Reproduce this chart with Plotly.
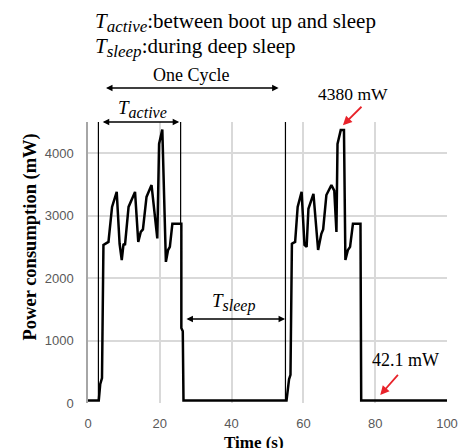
import plotly.graph_objects as go

# Power trace
time_s = [0, 3.0, 3.4, 3.9, 4.3, 5.7, 6.7, 8.0, 8.8, 9.4, 9.9, 10.3, 11.3, 13.1, 14.0, 14.7, 15.3,
          16.3, 17.7, 19.3, 19.8, 20.7, 21.7, 22.3, 22.8, 23.5, 26.0, 26.0, 26.4, 26.6,
          55.3, 56.0, 56.4, 56.8, 57.7, 58.4, 59.5, 60.3, 60.9, 61.4, 62.8, 64.1, 65.0, 65.5,
          66.4, 67.8, 68.6, 69.2, 69.5, 70.4, 71.3, 71.7, 72.4, 73.0, 73.8, 75.9, 76.1, 76.8, 100]
power_mw = [42, 42, 300, 400, 2530, 2580, 3140, 3380, 2550, 2290, 2550, 2530, 3140, 3380, 2580, 2740, 2780,
            3300, 3490, 2635, 4150, 4380, 2260, 2450, 2500, 2870, 2870, 1200, 1150, 42,
            42, 380, 450, 2550, 2580, 3140, 3380, 2530, 2500, 3110, 3350, 2450, 2710, 2780,
            3330, 3490, 3400, 2740, 4150, 4370, 4370, 2290, 2450, 2500, 2870, 2870, 42, 42, 42]

x_ticks = [0, 20, 40, 60, 80, 100]
y_ticks = [0, 1000, 2000, 3000, 4000]

serif = "Liberation Serif, Times New Roman, serif"
sans = "Liberation Sans, Arial, sans-serif"

fig = go.Figure()
fig.add_trace(go.Scatter(x=time_s, y=power_mw, mode="lines",
                         line=dict(color="black", width=2.5), hoverinfo="skip"))

grid = "#d9d9d9"
fig.update_layout(
    width=462, height=440,
    margin=dict(l=80, r=20, t=114, b=45),
    paper_bgcolor="white", plot_bgcolor="white",
    showlegend=False,
    xaxis=dict(range=[0, 100], tickvals=x_ticks, showgrid=True, gridcolor=grid, gridwidth=1.5,
               zeroline=False, showline=False, ticks="outside", ticklen=8,
               tickcolor="rgba(0,0,0,0)", tickfont=dict(family=sans, size=13, color="#595959")),
    yaxis=dict(range=[0, 4500], tickvals=y_ticks, showgrid=True, gridcolor=grid, gridwidth=1.5,
               zeroline=False, showline=True, linecolor="#a6a6a6", linewidth=1.5,
               ticks="outside", ticklen=10, tickcolor="rgba(0,0,0,0)",
               tickfont=dict(family=sans, size=13, color="#595959")),
)

PX_PER_PAPER_Y = 281.0


def py(pix):
    """page pixel row -> paper y (plot area from 122 to 403)"""
    return (403 - pix) / PX_PER_PAPER_Y


def sub(s, size=16):
    return "<sub><i><span style='font-size:%dpx'>%s</span></i></sub>" % (size, s)


ann = []
# header lines
ann.append(dict(xref="paper", yref="paper", x=(93 - 88) / 362, y=py(22), xanchor="left", yanchor="middle",
                text="<i>T</i>" + sub("active", 17) + ":between boot up and sleep", showarrow=False,
                font=dict(family=serif, size=21, color="black")))
ann.append(dict(xref="paper", yref="paper", x=(93 - 88) / 362, y=py(47), xanchor="left", yanchor="middle",
                text="<i>T</i>" + sub("sleep", 17) + ":during deep sleep", showarrow=False,
                font=dict(family=serif, size=21, color="black")))
# axis titles
ann.append(dict(xref="paper", yref="paper", x=(30 - 88) / 362, y=py(237), xanchor="center", yanchor="middle",
                text="<b>Power consumption (mW)</b>", textangle=-90, showarrow=False,
                font=dict(family=serif, size=18.5, color="black")))
ann.append(dict(xref="paper", yref="paper", x=(255 - 88) / 362, y=py(431), xanchor="center", yanchor="top",
                text="<b>Time (s)</b>", showarrow=False,
                font=dict(family=serif, size=17, color="black")))
# One Cycle
ann.append(dict(xref="x", yref="paper", x=28.8, y=py(75), yanchor="middle", text="One Cycle", showarrow=False,
                font=dict(family=serif, size=18, color="black")))
ann.append(dict(xref="x", yref="paper", x=53.1, y=py(88), ax=4.6, ay=0, axref="x", ayref="pixel",
                text="", showarrow=True, arrowside="end+start", arrowhead=2, arrowsize=1,
                arrowwidth=1.3, arrowcolor="black"))
# T_active
ann.append(dict(xref="x", yref="paper", x=15.3, y=py(109), yanchor="middle", text="<i>T</i>" + sub("active"),
                showarrow=False, font=dict(family=serif, size=19, color="black")))
ann.append(dict(xref="x", yref="paper", x=25.4, y=py(122), ax=3.7, ay=0, axref="x", ayref="pixel",
                text="", showarrow=True, arrowside="end+start", arrowhead=2, arrowsize=1,
                arrowwidth=1.3, arrowcolor="black"))
# T_sleep
ann.append(dict(xref="x", yref="paper", x=40.4, y=py(302), yanchor="middle", text="<i>T</i>" + sub("sleep"),
                showarrow=False, font=dict(family=serif, size=19, color="black")))
ann.append(dict(xref="x", yref="paper", x=54.9, y=py(319), ax=27.0, ay=0, axref="x", ayref="pixel",
                text="", showarrow=True, arrowside="end+start", arrowhead=2, arrowsize=1,
                arrowwidth=1.3, arrowcolor="black"))
# peak / sleep labels
red = "#e8232a"
ann.append(dict(xref="x", yref="paper", x=73.8, y=py(94), yanchor="middle", text="4380 mW", showarrow=False,
                font=dict(family=serif, size=17.5, color="black")))
ann.append(dict(xref="x", yref="y", x=71.0, y=4448, ax=76.6, ay=-20, axref="x", ayref="pixel",
                text="", showarrow=True, arrowhead=2, arrowsize=1, arrowwidth=1.8, arrowcolor=red))
ann.append(dict(xref="x", yref="y", x=88.4, y=690, yanchor="middle", text="42.1 mW", showarrow=False,
                font=dict(family=serif, size=18, color="black")))
ann.append(dict(xref="x", yref="y", x=81.4, y=128, ax=86.7, ay=475, axref="x", ayref="y",
                text="", showarrow=True, arrowhead=2, arrowsize=1, arrowwidth=1.8, arrowcolor=red))
fig.update_layout(annotations=ann)

# boundary lines of the cycle
shapes = [
    dict(type="line", xref="x", yref="y", x0=2.9, x1=2.9, y0=42, y1=5216, line=dict(color="black", width=1.2)),
    dict(type="line", xref="x", yref="y", x0=55.0, x1=55.0, y0=42, y1=5248, line=dict(color="black", width=1.2)),
    dict(type="line", xref="x", yref="y", x0=25.8, x1=25.8, y0=2870, y1=4720, line=dict(color="black", width=1.2)),
]
fig.update_layout(shapes=shapes)

fig.write_html("out.html")
